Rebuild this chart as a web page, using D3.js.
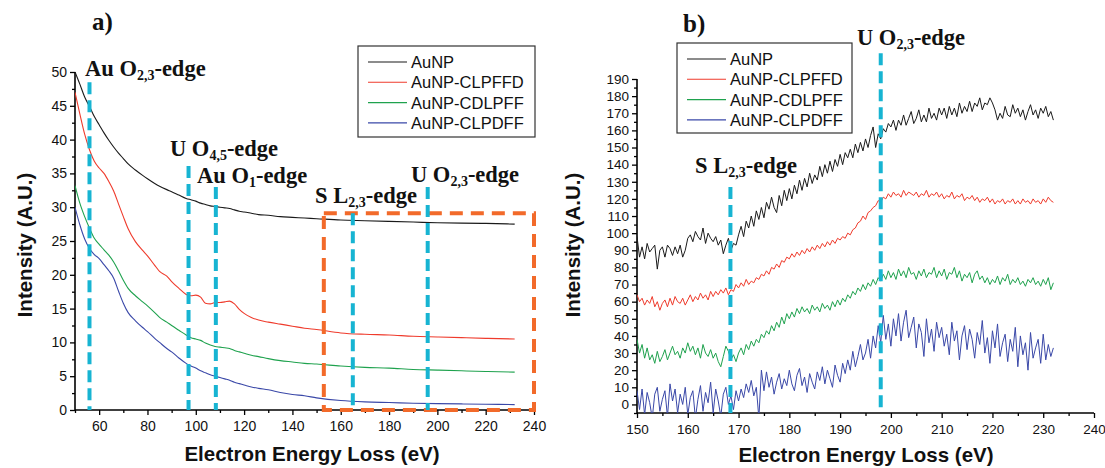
<!DOCTYPE html>
<html>
<head>
<meta charset="utf-8">
<script src="https://cdn.jsdelivr.net/npm/d3@7"></script>
<style>
	body { margin: 0; background: #fff; }
	svg { display: block; }
</style>
</head>
<body>
<svg id="chart"></svg>
<script>
// ---- data ----
const seriesNames = ["AuNP", "AuNP-CLPFFD", "AuNP-CDLPFF", "AuNP-CLPDFF"];
const seriesColors = ["#1a1a1a", "#ef3b2c", "#1fa24e", "#3a48a8"];

// panel a) full spectra
const energyA = [50, 52, 54, 56, 58, 60, 62, 64, 66, 68, 70, 72, 75, 78, 80, 83, 85, 88, 90, 93, 96, 98, 100, 102, 104, 106, 108, 110, 112, 114, 116, 118, 120, 123, 126, 130, 135, 140, 145, 150, 160, 170, 180, 190, 200, 210, 220, 232];
const aunpA = [50, 48.2, 46.3, 44.9, 43.4, 42.2, 41.0, 39.9, 38.9, 38.0, 37.2, 36.4, 35.5, 34.7, 34.2, 33.5, 33.1, 32.6, 32.3, 31.8, 31.3, 31.1, 30.9, 30.6, 30.4, 30.2, 30.1, 30.0, 29.9, 29.8, 29.6, 29.4, 29.3, 29.1, 28.9, 28.8, 28.6, 28.5, 28.4, 28.3, 28.1, 28.0, 27.9, 27.8, 27.7, 27.65, 27.6, 27.5];
const clpffdA = [47, 43.8, 40.8, 38.5, 36.8, 35.8, 35.0, 33.8, 32.4, 30.5, 28.6, 26.8, 24.9, 23.6, 22.8, 21.4, 20.5, 19.8, 19.0, 18.0, 17.1, 16.9, 17.0, 16.7, 15.8, 15.7, 15.9, 15.9, 16.0, 16.1, 15.7, 14.9, 14.3, 13.7, 13.3, 13.0, 12.7, 12.4, 12.1, 11.9, 11.4, 11.2, 11.1, 10.9, 10.8, 10.7, 10.6, 10.5];
const cdlpffA = [33.2, 30.6, 28.6, 26.9, 25.4, 24.5, 23.7, 22.9, 21.9, 20.6, 19.2, 18.0, 16.9, 16.0, 15.4, 14.4, 13.7, 13.0, 12.5, 11.8, 11.1, 10.7, 10.5, 10.3, 9.9, 9.6, 9.4, 9.3, 9.2, 9.1, 8.8, 8.6, 8.4, 8.1, 7.9, 7.6, 7.3, 7.1, 6.9, 6.8, 6.5, 6.3, 6.2, 6.0, 5.9, 5.8, 5.7, 5.6];
const clpdffA = [30, 27.4, 25.3, 23.9, 23.0, 22.4, 21.5, 20.6, 19.5, 17.6, 15.8, 14.4, 13.2, 12.2, 11.6, 10.6, 10.0, 9.1, 8.6, 7.7, 6.9, 6.5, 6.2, 5.8, 5.5, 5.2, 5.0, 4.8, 4.6, 4.4, 4.1, 3.9, 3.7, 3.4, 3.2, 3.0, 2.6, 2.3, 2.1, 1.8, 1.4, 1.2, 1.1, 1.0, 0.95, 0.9, 0.85, 0.8];

// panel b) zoom 150-232 eV, 0.5 eV channels
const energyB = d3.range(150, 232.01, 0.5);
const aunpB = [
	98, 86, 92, 85, 94, 89, 91, 93, 79, 90,
	92, 86, 93, 91, 87, 92, 88, 93, 86, 90,
	97, 99, 95, 101, 98, 96, 103, 94, 100, 97,
	95, 98, 93, 96, 88, 93, 97, 90, 94, 93,
	99, 104, 98, 107, 103, 110, 104, 113, 108, 115,
	109, 118, 114, 121, 115, 112, 122, 116, 125, 119,
	126, 120, 128, 123, 131, 125, 132, 127, 135, 129,
	134, 131, 139, 133, 140, 135, 142, 136, 143, 139,
	146, 140, 147, 144, 149, 144, 152, 147, 153, 148,
	155, 150, 157, 162, 150, 158, 155, 161, 159, 164,
	162, 166, 160, 166, 163, 169, 163, 167, 171, 164,
	167, 172, 165, 169, 165, 173, 167, 170, 166, 173,
	169, 173, 167, 174, 169, 173, 168, 176, 170, 174,
	171, 177, 171, 176, 174, 179, 172, 176, 175, 179,
	176, 172, 166, 170, 167, 174, 169, 168, 175, 170,
	173, 168, 172, 166, 171, 175, 169, 172, 167, 173,
	170, 174, 168, 171, 166];
const clpffdB = [
	64, 60, 62, 58, 61, 59, 63, 57, 60, 55,
	59, 61, 57, 62, 58, 63, 60, 59, 62, 58,
	61, 64, 60, 63, 61, 65, 62, 64, 61, 66,
	63, 66, 64, 67, 65, 68, 64, 67, 66, 70,
	68, 71, 69, 73, 70, 72, 71, 74, 73, 76,
	75, 78, 76, 80, 79, 82, 80, 84, 83, 86,
	85, 88, 86, 89, 87, 90, 88, 91, 89, 92,
	90, 93, 91, 94, 92, 95, 93, 96, 94, 97,
	96, 98, 97, 100, 99, 102, 103, 106, 107, 110,
	108, 112, 113, 115, 116, 119, 118, 121, 120, 123,
	121, 124, 122, 123, 121, 125, 122, 124, 123, 122,
	124, 121, 123, 122, 125, 121, 123, 122, 124, 121,
	123, 120, 122, 121, 124, 120, 122, 121, 123, 119,
	121, 120, 122, 119, 121, 118, 120, 119, 121, 118,
	120, 117, 119, 118, 120, 117, 119, 118, 120, 117,
	119, 117, 120, 118, 119, 117, 120, 118, 119, 117,
	120, 118, 121, 119, 118];
const cdlpffB = [
	38, 30, 35, 27, 33, 26, 29, 24, 31, 25,
	28, 32, 26, 30, 34, 29, 31, 27, 33, 30,
	36, 31, 34, 29, 33, 27, 35, 30, 28, 32,
	27, 30, 25, 22, 28, 34, 31, 26, 29, 25,
	30, 33, 29, 35, 32, 37, 34, 38, 36, 41,
	39, 43, 41, 46, 43, 48, 45, 51, 47, 53,
	50, 54, 51, 56, 53, 57, 54, 56, 53, 58,
	55, 57, 54, 59, 56, 58, 55, 60, 57, 61,
	58, 62, 60, 64, 62, 66, 64, 68, 66, 70,
	67, 71, 69, 73, 70, 74, 72, 76, 73, 78,
	74, 77, 73, 79, 75, 78, 74, 80, 76, 77,
	73, 78, 75, 79, 74, 77, 76, 80, 74, 78,
	75, 79, 73, 77, 76, 80, 74, 78, 72, 76,
	74, 77, 71, 76, 78, 73, 75, 71, 74, 70,
	73, 71, 75, 70, 74, 72, 76, 70, 73, 71,
	74, 70, 72, 69, 73, 71, 74, 70, 72, 69,
	73, 70, 74, 67, 71];
const clpdffB = [
	8, -3, 9, -6, 7, 1, -8, 6, 10, -4,
	3, 8, -7, 12, 2, 9, -5, 6, 0, 10,
	-6, 4, 8, -8, 3, 11, -4, 7, 1, 13,
	-5, 9, 2, -7, 6, 10, 0, 5, -3, 8,
	2, 9, 4, 12, 7, 14, 5, 10, -8, 20,
	8, 19, 10, 16, 6, 13, 18, 9, 15, 11,
	20, 12, 8, 17, 21, 11, 16, 7, 18, 13,
	9, 19, 14, 22, 12, 20, 15, 10, 23, 17,
	13, 24, 18, 26, 20, 31, 22, 28, 35, 26,
	30, 38, 27, 40, 33, 46, 36, 52, 38, 47,
	34, 50, 40, 53, 37, 48, 55, 39, 45, 51,
	33, 47, 42, 28, 50, 36, 44, 31, 48, 39,
	45, 34, 41, 29, 48, 37, 43, 26, 40, 46,
	32, 44, 38, 27, 42, 35, 49, 30, 39, 24,
	43, 33, 47, 28, 36, 41, 25, 38, 31, 45,
	22, 40, 29, 36, 20, 42, 27, 33, 38, 24,
	41, 26, 35, 28, 33];

// absorption edges: [label, subscript, energy, top of dashed line]
const edgesA = [["Au O", "2,3", 56, 48.5], ["U O", "4,5", 97, 36.1], ["Au O", "1", 108.3, 33], ["S L", "2,3", 165, 29.1], ["U O", "2,3", 196, 33]];
const edgesB = [["S L", "2,3", 168.4, 127], ["U O", "2,3", 198, 205]];
const boxA = [153, 240, 0, 29.1]; // region zoomed in b)

// ---- drawing ----
const W = 1105, H = 468;
const svg = d3.select("#chart").attr("width", W).attr("height", H);

const panelA = {x0: 75, x1: 534, y0: 410, y1: 72, xDom: [50, 240], yDom: [0, 50],
	xMajor: 20, xMinor: 10, yMajor: 5, yMinor: 2.5, tickFont: 14};
const panelB = {x0: 637, x1: 1094, y0: 413, y1: 79, xDom: [150, 240], yDom: [-5, 190],
	xMajor: 10, xMinor: 5, yMajor: 10, yMinor: 5, tickFont: 13.5};

function ticksBetween(lo, hi, step) {
	let out = [];
	for (let v = Math.ceil(lo / step) * step; v <= hi + 1e-9; v += step) out.push(+v.toFixed(3));
	return out;
}

function drawAxes(p, id) {
	const x = d3.scaleLinear().domain(p.xDom).range([p.x0, p.x1]);
	const y = d3.scaleLinear().domain(p.yDom).range([p.y0, p.y1]);

	const g = svg.append("g").attr("font-family", "'Liberation Sans', Arial, sans-serif");

	// x axis
	let xMaj = ticksBetween(p.xDom[0], p.xDom[1], p.xMajor).filter(v => v > p.xDom[0] || id == "b");
	let xMin = ticksBetween(p.xDom[0], p.xDom[1], p.xMinor).filter(v => !xMaj.includes(v));
	g.append("g")
		.attr("transform", `translate(0,${p.y0})`)
		.call(d3.axisBottom(x).tickValues(xMaj).tickSize(5).tickPadding(6).tickFormat(d3.format("d")))
		.call(a => a.selectAll("text").attr("font-size", p.tickFont).attr("fill", "#111").attr("font-family", null))
		.call(a => a.select(".domain").attr("stroke-width", 1.6).attr("d", `M${p.x0},0H${p.x1}`));
	g.append("g")
		.attr("transform", `translate(0,${p.y0})`)
		.call(d3.axisBottom(x).tickValues(xMin).tickSize(3).tickFormat(""))
		.call(a => a.select(".domain").remove());

	// y axis
	let yMaj = ticksBetween(Math.max(0, p.yDom[0]), p.yDom[1], p.yMajor);
	let yMin = ticksBetween(p.yDom[0], p.yDom[1], p.yMinor).filter(v => !yMaj.includes(v));
	g.append("g")
		.attr("transform", `translate(${p.x0},0)`)
		.call(d3.axisLeft(y).tickValues(yMaj).tickSize(5).tickPadding(3).tickFormat(d3.format("d")))
		.call(a => a.selectAll("text").attr("font-size", p.tickFont).attr("fill", "#111").attr("font-family", null))
		.call(a => a.select(".domain").attr("stroke-width", 1.6).attr("d", `M0,${p.y0}V${p.y1}`));
	g.append("g")
		.attr("transform", `translate(${p.x0},0)`)
		.call(d3.axisLeft(y).tickValues(yMin).tickSize(3).tickFormat(""))
		.call(a => a.select(".domain").remove());

	g.selectAll(".tick line").attr("stroke-width", 1.3);

	// clip for the data
	svg.append("clipPath").attr("id", "clip" + id)
		.append("rect")
		.attr("x", p.x0).attr("y", p.y1 - 20)
		.attr("width", p.x1 - p.x0).attr("height", p.y0 - p.y1 + 20);

	return [x, y];
}

function drawSeries(x, y, energies, values, id, smooth) {
	const line = d3.line()
		.x((d, i) => x(energies[i]))
		.y(d => y(d))
		.curve(smooth ? d3.curveMonotoneX : d3.curveLinear);

	svg.append("g")
		.attr("clip-path", `url(#clip${id})`)
		.selectAll("path")
		.data(values)
		.join("path")
		.attr("d", d => line(d))
		.attr("fill", "none")
		.attr("stroke", (d, i) => seriesColors[i])
		.attr("stroke-width", smooth ? 1.1 : 1)
		.attr("stroke-linejoin", "round");
}

function drawLegend(bx, by, bw, bh) {
	const g = svg.append("g").attr("transform", `translate(${bx},${by})`);
	g.append("rect")
		.attr("width", bw).attr("height", bh)
		.attr("fill", "#fff").attr("stroke", "#333").attr("stroke-width", 1.2);
	const rows = g.selectAll(".leg")
		.data(seriesNames)
		.join("g")
		.attr("class", "leg")
		.attr("transform", (d, i) => `translate(0,${16 + i * 20.3})`);
	rows.append("line")
		.attr("x1", 10).attr("x2", 49)
		.attr("stroke", (d, i) => seriesColors[i])
		.attr("stroke-width", 1.1);
	rows.append("text")
		.text(d => d)
		.attr("x", 53)
		.attr("dy", "0.36em")
		.attr("font-family", "'Liberation Sans', Arial, sans-serif")
		.attr("font-size", 16.5)
		.attr("fill", "#111");
}

function edgeLabel(tx, ty, main, sub) {
	const t = svg.append("text")
		.attr("x", tx).attr("y", ty)
		.attr("font-family", "'Liberation Serif', 'Times New Roman', serif")
		.attr("font-weight", "bold")
		.attr("font-size", 22.5)
		.attr("fill", "#111");
	t.append("tspan").text(main);
	t.append("tspan").text(sub).attr("font-size", 14).attr("dy", 4);
	t.append("tspan").text("-edge").attr("dy", -4);
}

function dashedV(x, y, e, top, bottom) {
	svg.append("line")
		.attr("x1", x(e)).attr("x2", x(e))
		.attr("y1", y(top)).attr("y2", y(bottom))
		.attr("stroke", "#17b4d2")
		.attr("stroke-width", 4)
		.attr("stroke-dasharray", "12,6");
}

function axisTitles(cx, xLabelY, yLabelX, yLabelCy) {
	svg.append("text")
		.text("Electron Energy Loss (eV)")
		.attr("x", cx).attr("y", xLabelY)
		.attr("text-anchor", "middle")
		.attr("font-family", "'Liberation Sans', Arial, sans-serif")
		.attr("font-weight", "bold").attr("font-size", 20.5).attr("fill", "#111");
	svg.append("text")
		.text("Intensity (A.U.)")
		.attr("transform", `translate(${yLabelX},${yLabelCy}) rotate(-90)`)
		.attr("text-anchor", "middle")
		.attr("font-family", "'Liberation Sans', Arial, sans-serif")
		.attr("font-weight", "bold").attr("font-size", 20.5).attr("fill", "#111");
}

function panelTitle(tx, ty, s) {
	svg.append("text").text(s)
		.attr("x", tx).attr("y", ty)
		.attr("font-family", "'Liberation Serif', 'Times New Roman', serif")
		.attr("font-weight", "bold").attr("font-size", 25).attr("fill", "#111");
}

// ---- panel a ----
let [xa, ya] = drawAxes(panelA, "a");
drawSeries(xa, ya, energyA, [aunpA, clpffdA, cdlpffA, clpdffA], "a", true);

// orange zoom box
svg.append("rect")
	.attr("x", xa(boxA[0])).attr("y", ya(boxA[3]))
	.attr("width", xa(boxA[1]) - xa(boxA[0]))
	.attr("height", ya(boxA[2]) - ya(boxA[3]))
	.attr("fill", "none")
	.attr("stroke", "#f26a2a")
	.attr("stroke-width", 4)
	.attr("stroke-dasharray", "13,8");

const labelPosA = [[85, 76], [170, 156], [197, 183], [315, 203], [411, 182]];
edgesA.forEach((e, i) => {
	dashedV(xa, ya, e[2], e[3], 0);
	edgeLabel(labelPosA[i][0], labelPosA[i][1], e[0], e[1]);
});
drawLegend(358, 46, 177, 91);
axisTitles(312, 461, 32, 245);
panelTitle(92, 30, "a)");

// ---- panel b ----
let [xb, yb] = drawAxes(panelB, "b");
drawSeries(xb, yb, energyB, [aunpB, clpffdB, cdlpffB, clpdffB], "b", false);

const labelPosB = [[695, 173], [857, 45]];
edgesB.forEach((e, i) => {
	dashedV(xb, yb, e[2], e[3], -5);
	edgeLabel(labelPosB[i][0], labelPosB[i][1], e[0], e[1]);
});
drawLegend(677, 43, 175, 90);
axisTitles(866, 462, 580, 245);
panelTitle(683, 32, "b)");
</script>
</body>
</html>
